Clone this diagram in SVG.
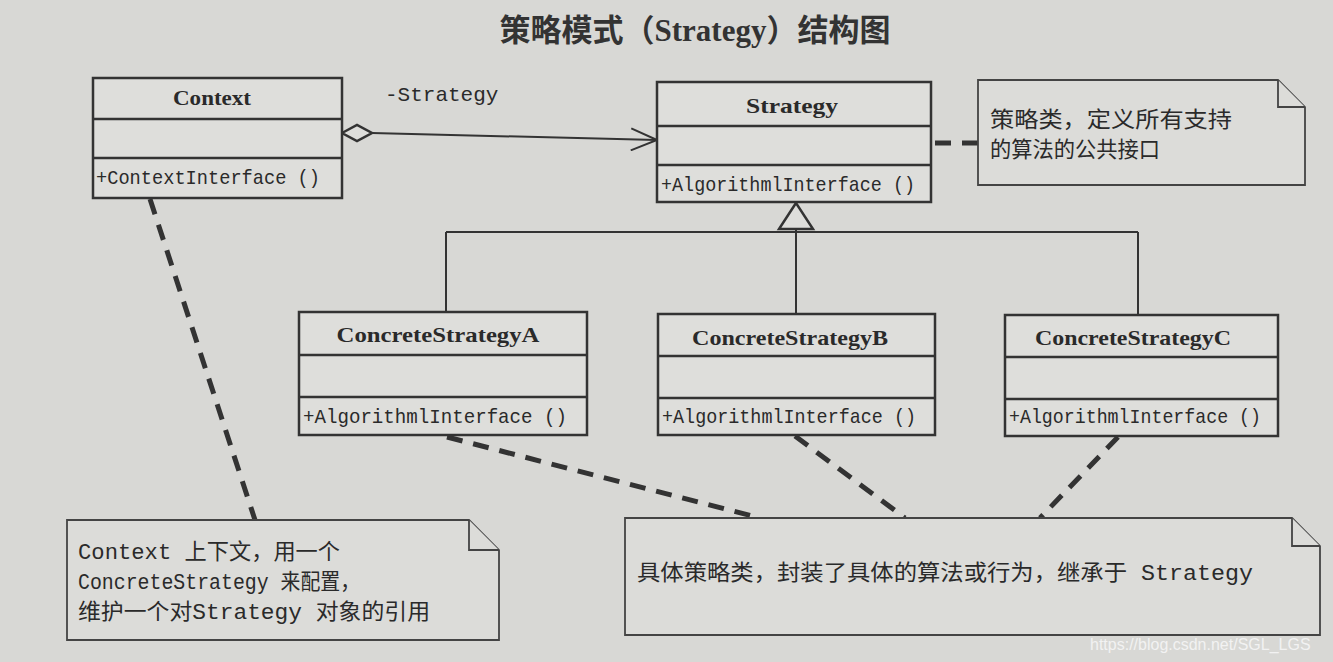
<svg xmlns="http://www.w3.org/2000/svg" width="1333" height="662" viewBox="0 0 1333 662">
<defs>
<style>
.bg{fill:#d8d8d5}
.box{fill:#dededb;stroke:#333;stroke-width:2.5}
.div{stroke:#333;stroke-width:2.5}
.note{fill:#dcdcd9;stroke:#444;stroke-width:1.8}
.cn{font-family:"Liberation Serif","Noto Sans CJK SC",serif;font-weight:bold;font-size:21px;fill:#2a2a2a;text-anchor:middle}
.m{font-family:"Liberation Mono",monospace;font-size:21px;fill:#2a2a2a}
.t{font-family:"Liberation Mono","Noto Sans CJK SC",monospace;font-size:22px;fill:#2a2a2a}
.line{stroke:#333;stroke-width:2;fill:none}
.dash{stroke:#333;stroke-width:5;stroke-dasharray:16 11;fill:none}
</style>
<marker id="open" markerWidth="30" markerHeight="24" refX="28" refY="12" orient="auto" markerUnits="userSpaceOnUse">
<path d="M2,1 L28,12 L2,23" fill="none" stroke="#333" stroke-width="2"/>
</marker>
</defs>
<rect class="bg" x="0" y="0" width="1333" height="662"/>
<text x="695" y="41" font-family="'Liberation Serif','Noto Sans CJK SC',serif" font-weight="bold" font-size="31" fill="#333" text-anchor="middle">策略模式（Strategy）结构图</text>

<g id="connectors">
<path class="line" d="M372,133 L657,140" marker-end="url(#open)"/>
<path d="M342,133 L357,125 L372,133 L357,141 Z" fill="#dededb" stroke="#333" stroke-width="2.5"/>
<text class="m" x="385" y="101">-Strategy</text>
<path class="line" d="M796,229 L796,314"/>
<path class="line" d="M446,232 L1138,232"/>
<path class="line" d="M446,232 L446,312"/>
<path class="line" d="M1138,232 L1138,315"/>
<path d="M796,203 L779,229 L813,229 Z" fill="#dededb" stroke="#333" stroke-width="2.5"/>
<path class="dash" d="M935,143 L978,143"/>
<path class="dash" d="M150,199 L255,520"/>
<path class="dash" d="M447,437 L760,518"/>
<path class="dash" d="M795,436 L905,518"/>
<path class="dash" d="M1118,437 L1040,518"/>
</g>

<g id="context">
<rect class="box" x="93" y="78" width="249" height="120"/>
<line class="div" x1="93" y1="119" x2="342" y2="119"/>
<line class="div" x1="93" y1="158" x2="342" y2="158"/>
<text class="cn" x="212" y="105" textLength="78" lengthAdjust="spacingAndGlyphs">Context</text>
<text class="m" x="96" y="184" textLength="224" lengthAdjust="spacingAndGlyphs">+ContextInterface ()</text>
</g>

<g id="strategy">
<rect class="box" x="657" y="82" width="274" height="120"/>
<line class="div" x1="657" y1="126" x2="931" y2="126"/>
<line class="div" x1="657" y1="165" x2="931" y2="165"/>
<text class="cn" x="792" y="113" textLength="92" lengthAdjust="spacingAndGlyphs">Strategy</text>
<text class="m" x="661" y="191" textLength="254" lengthAdjust="spacingAndGlyphs">+AlgorithmlInterface ()</text>
</g>

<g id="note-strategy">
<path class="note" d="M978,80 L1278,80 L1305,107 L1305,185 L978,185 Z"/>
<path class="note" d="M1278,80 L1278,107 L1305,107" fill="none"/>
<text class="t" x="990" y="127" textLength="242" lengthAdjust="spacingAndGlyphs">策略类，定义所有支持</text>
<text class="t" x="990" y="157" textLength="170" lengthAdjust="spacingAndGlyphs">的算法的公共接口</text>
</g>

<g id="csa">
<rect class="box" x="299" y="312" width="288" height="123"/>
<line class="div" x1="299" y1="355" x2="587" y2="355"/>
<line class="div" x1="299" y1="397" x2="587" y2="397"/>
<text class="cn" x="438" y="342" textLength="203" lengthAdjust="spacingAndGlyphs">ConcreteStrategyA</text>
<text class="m" x="303" y="423" textLength="264" lengthAdjust="spacingAndGlyphs">+AlgorithmlInterface ()</text>
</g>

<g id="csb">
<rect class="box" x="658" y="314" width="277" height="121"/>
<line class="div" x1="658" y1="356" x2="935" y2="356"/>
<line class="div" x1="658" y1="398" x2="935" y2="398"/>
<text class="cn" x="790" y="345" textLength="196" lengthAdjust="spacingAndGlyphs">ConcreteStrategyB</text>
<text class="m" x="662" y="423" textLength="254" lengthAdjust="spacingAndGlyphs">+AlgorithmlInterface ()</text>
</g>

<g id="csc">
<rect class="box" x="1005" y="315" width="273" height="121"/>
<line class="div" x1="1005" y1="357" x2="1278" y2="357"/>
<line class="div" x1="1005" y1="399" x2="1278" y2="399"/>
<text class="cn" x="1133" y="345" textLength="196" lengthAdjust="spacingAndGlyphs">ConcreteStrategyC</text>
<text class="m" x="1009" y="423" textLength="252" lengthAdjust="spacingAndGlyphs">+AlgorithmlInterface ()</text>
</g>

<g id="note-context">
<path class="note" d="M67,520 L469,520 L499,550 L499,640 L67,640 Z"/>
<path class="note" d="M469,520 L469,550 L499,550" fill="none"/>
<text class="t" x="78" y="559" textLength="262" lengthAdjust="spacingAndGlyphs">Context 上下文，用一个</text>
<text class="t" x="78" y="589" textLength="282" lengthAdjust="spacingAndGlyphs">ConcreteStrategy 来配置，</text>
<text class="t" x="78" y="619" textLength="352" lengthAdjust="spacingAndGlyphs">维护一个对Strategy 对象的引用</text>
</g>

<g id="note-concrete">
<path class="note" d="M625,518 L1292,518 L1320,546 L1320,635 L625,635 Z"/>
<path class="note" d="M1292,518 L1292,546 L1320,546" fill="none"/>
<text class="t" x="637" y="580" textLength="616" lengthAdjust="spacingAndGlyphs">具体策略类，封装了具体的算法或行为，继承于 Strategy</text>
</g>

<text x="1090" y="650" font-family="'Liberation Sans',sans-serif" font-size="16" fill="#f2f2f2">https://blog.csdn.net/SGL_LGS</text>
</svg>
